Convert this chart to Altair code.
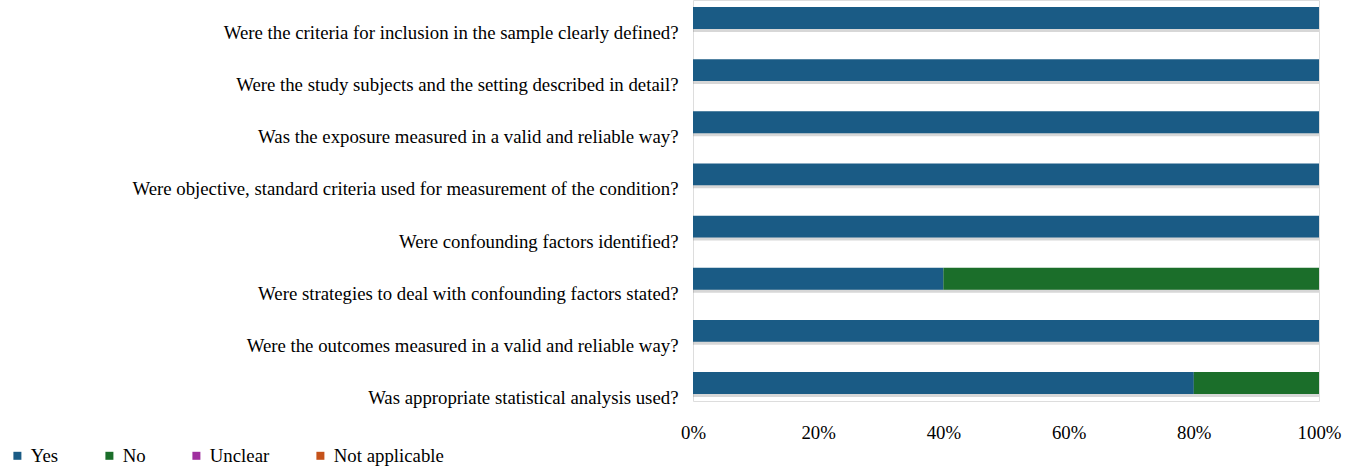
import altair as alt
import pandas as pd

questions = [
    "Were the criteria for inclusion in the sample clearly defined?",
    "Were the study subjects and the setting described in detail?",
    "Was the exposure measured in a valid and reliable way?",
    "Were objective, standard criteria used for measurement of the condition?",
    "Were confounding factors identified?",
    "Were strategies to deal with confounding factors stated?",
    "Were the outcomes measured in a valid and reliable way?",
    "Was appropriate statistical analysis used?",
]
yes_pct = [100, 100, 100, 100, 100, 40, 100, 80]
no_pct = [0, 0, 0, 0, 0, 60, 0, 20]
unclear_pct = [0, 0, 0, 0, 0, 0, 0, 0]
na_pct = [0, 0, 0, 0, 0, 0, 0, 0]

answers = ["Yes", "No", "Unclear", "Not applicable"]
answer_colors = ["#1a5b85", "#1b6e2a", "#a0309f", "#c5521a"]
x_ticks = [0, 20, 40, 60, 80, 100]

rows = []
for i, q in enumerate(questions):
    for j, (a, vals) in enumerate(zip(answers, [yes_pct, no_pct, unclear_pct, na_pct])):
        rows.append({"question": q, "answer": a, "order": j, "value": vals[i]})
df = pd.DataFrame(rows)

FONT = "Liberation Serif"
FS = 18.8

y_enc = alt.Y(
    "question:N",
    sort=questions,
    title=None,
    scale=alt.Scale(paddingInner=0.58, paddingOuter=0.134),
    axis=alt.Axis(
        labelFont=FONT, labelFontSize=FS, labelColor="#000000",
        labelLimit=0, labelPadding=15, labelOffset=15,
        ticks=False, domain=False, grid=False,
    ),
)

x_scale = alt.Scale(domain=[0, 100], nice=False)
x_axis = alt.Axis(
    values=x_ticks,
    labelExpr="datum.value + '%'",
    labelFont=FONT, labelFontSize=FS, labelColor="#000000",
    labelPadding=22, ticks=False, domain=False, grid=False,
    labelFlush=False,
)

shadow = (
    alt.Chart(df)
    .transform_aggregate(total="sum(value)", groupby=["question"])
    .mark_bar(color="#7a7a7a", opacity=0.3, yOffset=3)
    .encode(
        x=alt.X("total:Q", scale=x_scale, axis=x_axis, title=None),
        y=y_enc,
    )
)

bars = (
    alt.Chart(df)
    .mark_bar()
    .encode(
        x=alt.X("value:Q", stack="zero", scale=x_scale, title=None, axis=x_axis),
        y=y_enc,
        color=alt.Color(
            "answer:N",
            scale=alt.Scale(domain=answers, range=answer_colors),
            legend=alt.Legend(
                title=None,
                orient="none",
                direction="horizontal",
                legendX=-685,
                legendY=446,
                symbolType="square",
                symbolSize=64,
                symbolStrokeWidth=0,
                symbolOpacity=1,
                labelFont=FONT,
                labelFontSize=FS,
                labelColor="#000000",
                labelOffset=4,
                columnPadding=41,
                padding=0,
            ),
        ),
        order=alt.Order("order:Q", sort="ascending"),
    )
)

chart = (
    alt.layer(shadow, bars)
    .properties(
        width=626,
        height=401,
        autosize=alt.AutoSizeParams(type="none"),
        padding={"left": 693, "right": 29, "top": 0, "bottom": 70},
    )
    .configure_view(stroke=None, strokeWidth=0)
    .configure_axis(grid=False, domain=False, ticks=False)
    .configure(background="#ffffff")
)

chart.save("out.html", embed_options={"renderer": "svg", "actions": False})
